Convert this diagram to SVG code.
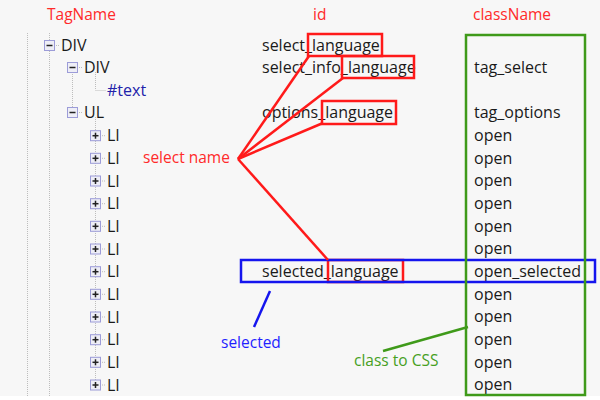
<svg xmlns="http://www.w3.org/2000/svg" width="600" height="400" viewBox="0 0 600 400">
<style>
text{font-family:"Open Sans","Noto Sans",sans-serif;font-size:16px;fill:#1a1a1a}
.hdr{fill:#ff2a2a;font-size:15.5px}
.txt{fill:#2222aa}
.dot{stroke:#bdbdbd;stroke-width:1;stroke-dasharray:1 1;fill:none}
.tb{fill:#eeeef6;stroke:#9c9cd8;stroke-width:1}
.sg{stroke:#222;stroke-width:1.5}
.red{fill:none;stroke:#ff1a1a;stroke-width:2.5}
.blue{fill:none;stroke:#1515ee;stroke-width:2.5}
.green{fill:none;stroke:#3f9a1a;stroke-width:2.5}
</style>
<defs>
<g id="minus"><rect class="tb" x="-5" y="-5" width="10" height="10"/><line class="sg" x1="-3" y1="0" x2="3" y2="0"/></g>
<g id="plus"><rect class="tb" x="-5" y="-5" width="10" height="10"/><line class="sg" x1="-3" y1="0" x2="3" y2="0"/><line class="sg" x1="0" y1="-3" x2="0" y2="3"/></g>
</defs>
<rect x="0" y="0" width="600" height="400" fill="#f7f7f7"/>
<rect x="0" y="396" width="600" height="4" fill="#ffffff"/>

<g id="headers">
<text class="hdr" x="47" y="20">TagName</text>
<text class="hdr" x="313" y="20">id</text>
<text class="hdr" x="473" y="20">className</text>
</g>

<g id="tree-lines">
<line class="dot" x1="27.5" y1="33" x2="27.5" y2="396"/>
<line class="dot" x1="49.5" y1="33" x2="49.5" y2="396"/>
<line class="dot" x1="54" y1="45.5" x2="60" y2="45.5"/>
<line class="dot" x1="72.5" y1="72" x2="72.5" y2="108"/>
<line class="dot" x1="77" y1="67.5" x2="83" y2="67.5"/>
<line class="dot" x1="77" y1="112.5" x2="83" y2="112.5"/>
<line class="dot" x1="95.5" y1="72" x2="95.5" y2="90"/>
<line class="dot" x1="95.5" y1="90.5" x2="106" y2="90.5"/>
<line class="dot" x1="95.5" y1="117" x2="95.5" y2="385"/>
</g>

<g id="tree">
<g id="n-div1"><use href="#minus" x="49.5" y="45.5"/><text x="61" y="51">DIV</text></g>
<g id="n-div2"><use href="#minus" x="72.5" y="67.5"/><text x="84" y="73">DIV</text></g>
<g id="n-text"><text class="txt" x="107" y="96">#text</text></g>
<g id="n-ul"><use href="#minus" x="72.5" y="112.5"/><text x="84" y="118">UL</text></g>
<g id="n-li">
<g transform="translate(0,135.7)"><line class="dot" x1="100" y1="0" x2="106" y2="0"/><use href="#plus" x="95.5" y="0"/><text x="107" y="5.5">LI</text></g>
<g transform="translate(0,158.3)"><line class="dot" x1="100" y1="0" x2="106" y2="0"/><use href="#plus" x="95.5" y="0"/><text x="107" y="5.5">LI</text></g>
<g transform="translate(0,181)"><line class="dot" x1="100" y1="0" x2="106" y2="0"/><use href="#plus" x="95.5" y="0"/><text x="107" y="5.5">LI</text></g>
<g transform="translate(0,203.7)"><line class="dot" x1="100" y1="0" x2="106" y2="0"/><use href="#plus" x="95.5" y="0"/><text x="107" y="5.5">LI</text></g>
<g transform="translate(0,226.3)"><line class="dot" x1="100" y1="0" x2="106" y2="0"/><use href="#plus" x="95.5" y="0"/><text x="107" y="5.5">LI</text></g>
<g transform="translate(0,249)"><line class="dot" x1="100" y1="0" x2="106" y2="0"/><use href="#plus" x="95.5" y="0"/><text x="107" y="5.5">LI</text></g>
<g transform="translate(0,271.7)"><line class="dot" x1="100" y1="0" x2="106" y2="0"/><use href="#plus" x="95.5" y="0"/><text x="107" y="5.5">LI</text></g>
<g transform="translate(0,294.3)"><line class="dot" x1="100" y1="0" x2="106" y2="0"/><use href="#plus" x="95.5" y="0"/><text x="107" y="5.5">LI</text></g>
<g transform="translate(0,317)"><line class="dot" x1="100" y1="0" x2="106" y2="0"/><use href="#plus" x="95.5" y="0"/><text x="107" y="5.5">LI</text></g>
<g transform="translate(0,339.7)"><line class="dot" x1="100" y1="0" x2="106" y2="0"/><use href="#plus" x="95.5" y="0"/><text x="107" y="5.5">LI</text></g>
<g transform="translate(0,362.3)"><line class="dot" x1="100" y1="0" x2="106" y2="0"/><use href="#plus" x="95.5" y="0"/><text x="107" y="5.5">LI</text></g>
<g transform="translate(0,385)"><line class="dot" x1="100" y1="0" x2="106" y2="0"/><use href="#plus" x="95.5" y="0"/><text x="107" y="5.5">LI</text></g>
</g>
</g>

<g id="ids">
<text x="262" y="51">select_language</text>
<text x="262" y="73">select_info_language</text>
<text x="262" y="118">options_language</text>
<text x="262" y="277">selected_language</text>
</g>

<g id="classes">
<text x="474" y="73">tag_select</text>
<text x="474" y="118">tag_options</text>
<text x="474" y="141">open</text>
<text x="474" y="164">open</text>
<text x="474" y="186">open</text>
<text x="474" y="209">open</text>
<text x="474" y="232">open</text>
<text x="474" y="254">open</text>
<text x="474" y="277">open_selected</text>
<text x="474" y="300">open</text>
<text x="474" y="322">open</text>
<text x="474" y="345">open</text>
<text x="474" y="368">open</text>
<text x="474" y="390">open</text>
</g>

<g id="annotations">
<g id="select-name">
<rect class="red" x="308" y="34" width="74" height="22"/>
<rect class="red" x="342" y="56" width="72" height="22"/>
<rect class="red" x="322" y="101" width="74" height="23"/>
<rect class="red" x="328" y="260" width="75" height="22"/>
<text x="143" y="163" style="fill:#ff2a2a;font-size:15.5px">select name</text>
</g>
<g id="selected">
<rect class="blue" x="241" y="260" width="354" height="22"/>
<text x="221" y="348" style="fill:#1f1fff;font-size:15.5px">selected</text>
</g>
<g id="class-to-css">
<rect class="green" x="466" y="35" width="119" height="360"/>
<text x="354" y="366" style="fill:#46a01e;font-size:15.5px">class to CSS</text>
</g>
</g>

<g id="connectors">
<line class="red" x1="238" y1="159" x2="309" y2="56"/>
<line class="red" x1="238" y1="159" x2="343" y2="78"/>
<line class="red" x1="238" y1="159" x2="323" y2="123"/>
<line class="red" x1="238" y1="159" x2="328" y2="260"/>
<line class="blue" x1="270" y1="291" x2="254" y2="327"/>
<line class="green" x1="383" y1="351" x2="468" y2="327"/>
</g>
</svg>
